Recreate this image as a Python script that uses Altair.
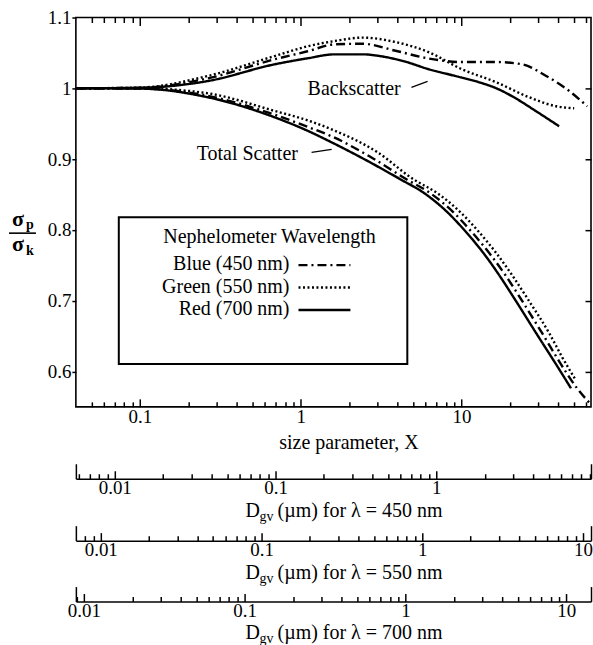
import altair as alt
import pandas as pd

FONT = "Liberation Serif"

# ---------------- data ----------------
X_DOMAIN = [0.04, 64]
Y_DOMAIN = [0.55, 1.1]

series_names = ["Blue", "Green", "Red"]
legend_labels = ["Blue (450 nm)", "Green (550 nm)", "Red (700 nm)"]
wavelengths_nm = [450, 550, 700]

back_blue_x = [0.04, 0.1, 0.265, 0.69, 1.105, 1.63, 2.43, 3.95, 6.3, 10.1, 16.5, 23.9, 33.7, 46.9, 60.6]
back_blue_v = [1.000, 1.0007, 1.0141, 1.041, 1.0523, 1.0621, 1.0629, 1.0527, 1.042, 1.0371, 1.0371, 1.0339, 1.0174, 0.9962, 0.9746]
back_green_x = [0.04, 0.1, 0.265, 0.69, 1.105, 1.63, 2.43, 3.95, 6.3, 10.1, 16.5, 26.4, 38.9, 50.3]
back_green_v = [1.000, 1.001, 1.0174, 1.0456, 1.0593, 1.0668, 1.0716, 1.065, 1.0508, 1.0268, 1.0085, 0.9873, 0.9746, 0.9718]
back_red_x = [0.04, 0.1, 0.265, 0.69, 1.105, 1.63, 2.43, 3.1, 4.42, 6.3, 9.05, 12.9, 16.5, 20.7, 29.2, 40.6]
back_red_v = [1.000, 1.0007, 1.0103, 1.0339, 1.0424, 1.048, 1.048, 1.0456, 1.038, 1.0268, 1.0177, 1.0085, 1.000, 0.9887, 0.9675, 0.9463]

total_blue_x = [0.04, 0.1, 0.265, 0.69, 1.105, 1.558, 2.68, 4.55, 6.42, 8.79, 11.5, 15.1, 18.8, 23.3, 31.8, 43.6, 52.5, 63.0]
total_blue_v = [1.000, 0.9997, 0.9894, 0.9626, 0.9456, 0.9322, 0.904, 0.8715, 0.8517, 0.8263, 0.798, 0.7655, 0.7359, 0.7034, 0.654, 0.603, 0.576, 0.555]
total_green_x = [0.04, 0.1, 0.265, 0.69, 1.105, 1.558, 3.01, 5.03, 7.1, 9.72, 12.75, 16.7, 20.7, 25.7, 35.2, 42.4, 51.1]
total_green_v = [1.000, 1.000, 0.9929, 0.968, 0.9548, 0.942, 0.9096, 0.8715, 0.8517, 0.8263, 0.798, 0.7655, 0.7359, 0.7034, 0.654, 0.620, 0.589]
total_red_x = [0.04, 0.1, 0.265, 0.69, 1.105, 1.558, 2.497, 4.17, 5.89, 8.07, 10.59, 13.9, 17.2, 21.3, 29.2, 40.6, 48.1]
total_red_v = [1.000, 0.9996, 0.9873, 0.959, 0.94, 0.9237, 0.8997, 0.8715, 0.8517, 0.8263, 0.798, 0.7655, 0.7359, 0.7034, 0.654, 0.603, 0.576]

ann_text = ["Total Scatter", "Backscatter"]
ann_x = [0.226, 1.105]
ann_v = [0.907, 0.9986]
lead_x = [1.17, 4.89]
lead_x2 = [1.56, 6.16]
lead_v = [0.9096, 1.0014]
lead_v2 = [0.9138, 1.0099]

main_major = [0.1, 1, 10]
main_minor = [0.05, 0.06, 0.07, 0.08, 0.09, 0.2, 0.3, 0.4, 0.5, 0.6, 0.7, 0.8, 0.9,
              2, 3, 4, 5, 6, 7, 8, 9, 20, 30, 40, 50, 60]
y_ticks = [0.6, 0.7, 0.8, 0.9, 1.0, 1.1]
y_right_ticks = [0.6, 0.7, 0.8, 0.9, 1.0]

# ---------------- build ----------------
rows = []
for name, xs_, vs_, kind in [
    ("Blue", back_blue_x, back_blue_v, "back"), ("Green", back_green_x, back_green_v, "back"),
    ("Red", back_red_x, back_red_v, "back"), ("Blue", total_blue_x, total_blue_v, "total"),
    ("Green", total_green_x, total_green_v, "total"), ("Red", total_red_x, total_red_v, "total")]:
    for i, (a, b) in enumerate(zip(xs_, vs_)):
        rows.append({"X": a, "v": b, "series": name, "curve": name + "-" + kind, "i": i})
df = pd.DataFrame(rows)

DASHES = [[9, 4, 2, 4], [2, 2.5], [1, 0]]
W, H = 516, 390

xs = alt.Scale(type="log", domain=X_DOMAIN, nice=False)
ys = alt.Scale(domain=Y_DOMAIN, nice=False, zero=False)

lines = alt.Chart(df).mark_line(color="black", strokeWidth=2.4, interpolate="monotone",
                                clip=True, strokeCap="butt").encode(
    x=alt.X("X:Q", scale=xs, axis=alt.Axis(
        orient="bottom", values=main_major, format="~g", tickSize=8, offset=-8, domain=False,
        labelPadding=1, labelFlush=False, grid=False, title="size parameter, X",
        titleX=273, titleY=50, titleBaseline="alphabetic", titleFontSize=20)),
    y=alt.Y("v:Q", scale=ys, axis=alt.Axis(
        orient="left", values=y_ticks, format="~g", tickSize=4, labelPadding=1,
        domain=False, grid=False, title=None)),
    strokeDash=alt.StrokeDash("series:N", scale=alt.Scale(domain=series_names, range=DASHES), legend=None),
    detail="curve:N",
    order="i:Q",
)

ghost_df = pd.DataFrame({"X": [0.1, 1.0], "v": [1.0, 1.0]})


def ghost(xaxis, yaxis):
    return alt.Chart(ghost_df).mark_point(opacity=0, size=1).encode(
        x=alt.X("X:Q", scale=xs, axis=xaxis),
        y=alt.Y("v:Q", scale=ys, axis=yaxis))


g_bottom_minor = ghost(
    alt.Axis(orient="bottom", values=main_minor, tickSize=5, offset=-5, labels=False,
             domain=False, grid=False, title=None),
    alt.Axis(orient="right", values=y_right_ticks, tickSize=6, offset=-6, labels=False,
             domain=False, grid=False, title=None))
g_top_major = ghost(
    alt.Axis(orient="top", values=main_major, tickSize=8, offset=-8, labels=False,
             domain=False, grid=False, title=None), None)
g_top_minor = ghost(
    alt.Axis(orient="top", values=main_minor, tickSize=5, offset=-5, labels=False,
             domain=False, grid=False, title=None), None)

ann = alt.Chart(pd.DataFrame({"t": ann_text, "X": ann_x, "v": ann_v})).mark_text(
    align="left", baseline="middle", font=FONT, fontSize=20, color="black").encode(
    x=alt.X("X:Q", scale=xs, axis=None), y=alt.Y("v:Q", scale=ys, axis=None), text="t:N")

leaders = alt.Chart(pd.DataFrame({"X": lead_x, "X2": lead_x2, "v": lead_v, "v2": lead_v2})).mark_rule(
    color="black", strokeWidth=1.3).encode(
    x=alt.X("X:Q", scale=xs, axis=None), x2="X2:Q",
    y=alt.Y("v:Q", scale=ys, axis=None), y2="v2:Q")


def txt(s, x, y, size, align="left", baseline="alphabetic", weight="normal"):
    return alt.Chart(pd.DataFrame({"t": [s]})).mark_text(
        align=align, baseline=baseline, font=FONT, fontSize=size, fontWeight=weight,
        color="black").encode(x=alt.value(x), y=alt.value(y), text="t:N")


one = pd.DataFrame({"a": [0]})
legend_box = alt.Chart(one).mark_rect(fill="white", fillOpacity=0, stroke="black", strokeWidth=2).encode(
    x=alt.value(43), x2=alt.value(332), y=alt.value(200), y2=alt.value(347))
legend_layers = [legend_box, txt("Nephelometer Wavelength", 194, 220, 20, align="center", baseline="middle")]
for k, (lab, dash) in enumerate(zip(legend_labels, DASHES)):
    yy = 247 + 22.5 * k
    legend_layers.append(txt(lab, 214, yy, 20, align="right", baseline="middle"))
    legend_layers.append(alt.Chart(one).mark_rule(color="black", strokeWidth=2.4, strokeDash=dash,
                                                  strokeCap="butt").encode(
        x=alt.value(223), x2=alt.value(275), y=alt.value(yy + 1)))

frac = [
    txt("σ", -64, 209, 22, weight="bold"),
    txt("p", -50, 212, 14, weight="bold"),
    alt.Chart(one).mark_rule(color="black", strokeWidth=1.6).encode(
        x=alt.value(-67), x2=alt.value(-40), y=alt.value(216)),
    txt("σ", -64, 234, 22, weight="bold"),
    txt("k", -50, 238, 14, weight="bold"),
]

main = alt.layer(lines, g_bottom_minor, g_top_major, g_top_minor, ann, leaders,
                 *legend_layers, *frac).resolve_axis(x="independent", y="independent").properties(
    width=W, height=H, view=alt.ViewBackground(stroke="black", strokeWidth=1.6))


def d_panel(lam_nm, h):
    lam = lam_nm / 1000.0
    lo, hi = X_DOMAIN[0] * lam / 3.141592653589793, X_DOMAIN[1] * lam / 3.141592653589793
    sc = alt.Scale(type="log", domain=[lo, hi], nice=False)
    ysc = alt.Scale(domain=[0, 1])
    majors = [v for v in [0.001, 0.01, 0.1, 1, 10, 100] if lo <= v <= hi]
    minors = [k * m for m in [0.001, 0.01, 0.1, 1, 10] for k in range(2, 10) if lo <= k * m <= hi]
    gd = pd.DataFrame({"D": [0.1, 1.0], "yy": [0.5, 0.5]})

    def g(axis):
        return alt.Chart(gd).mark_point(opacity=0, size=1).encode(
            x=alt.X("D:Q", scale=sc, axis=axis), y=alt.Y("yy:Q", scale=ysc, axis=None))

    def t(s, x, y, size):
        return alt.Chart(pd.DataFrame({"t": [s], "D": [0.1], "yy": [0.5]})).mark_text(
            align="left", baseline="alphabetic", font=FONT, fontSize=size, color="black").encode(
            x=alt.value(x), y=alt.value(y), text="t:N")

    layers = [
        g(alt.Axis(orient="bottom", values=majors, format="~g", domain=True, ticks=False, tickSize=0,
                   labelPadding=0, labelFlush=False, grid=False, title=None)),
        g(alt.Axis(orient="bottom", values=majors, tickSize=8, offset=-8, labels=False,
                   domain=False, grid=False, title=None)),
        g(alt.Axis(orient="bottom", values=minors, tickSize=5, offset=-5, labels=False,
                   domain=False, grid=False, title=None)),
        g(alt.Axis(orient="bottom", values=[lo, hi], tickSize=15, offset=-15, labels=False,
                   domain=False, grid=False, title=None)),
        t("D", 170, h + 38, 20),
        t("gv", 184, h + 42, 14),
        t("(µm) for λ = %d nm" % lam_nm, 202, h + 38, 20),
    ]
    return alt.layer(*layers).resolve_axis(x="independent").properties(width=W, height=h)


chart = alt.vconcat(main, d_panel(wavelengths_nm[0], 32), d_panel(wavelengths_nm[1], 22),
                    d_panel(wavelengths_nm[2], 21), spacing=40, bounds="flush").properties(
    padding={"left": 7, "top": 7, "right": 0, "bottom": 0}
).configure_view(stroke=None).configure_axis(
    labelFont=FONT, labelFontSize=19, labelColor="black", tickColor="black", domainColor="black",
    tickWidth=1.5, domainWidth=1.5, titleFont=FONT, titleColor="black", titleFontWeight="normal",
)

chart.save("out.html", embed_options={"renderer": "svg", "actions": False})
